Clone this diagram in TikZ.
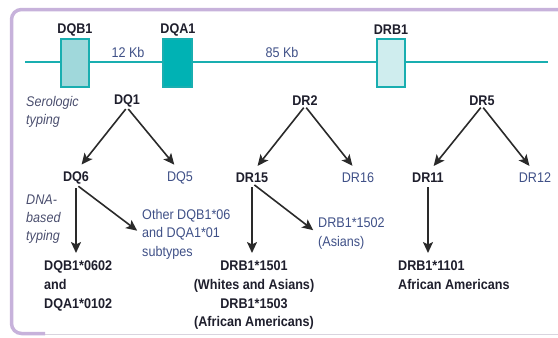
\documentclass[tikz,border=0pt]{standalone}
\usepackage{fontspec}
\setmainfont{Liberation Sans}[FakeStretch=0.9]
\usetikzlibrary{arrows.meta}

\definecolor{lilac}{HTML}{C7B2DB}
\definecolor{lilacpale}{HTML}{D9D4DE}
\definecolor{teal}{HTML}{19AEB0}
\definecolor{tealdark}{HTML}{00B2B4}
\definecolor{tealmid}{HTML}{A0D8DB}
\definecolor{tealpale}{HTML}{CFEDEE}
\definecolor{ink}{HTML}{1E1E2C}
\definecolor{softblue}{HTML}{3F5087}
\definecolor{notegray}{HTML}{4A4E6E}
\definecolor{arrowgray}{HTML}{2A2A2A}

\tikzset{
  lbl/.style={inner sep=0pt, font=\fontsize{14}{18.6}\selectfont},
  boldlbl/.style={lbl, font=\fontsize{14}{18.6}\selectfont\bfseries, text=ink},
  softlbl/.style={lbl, text=softblue},
  note/.style={inner sep=0pt, font=\fontsize{14}{18}\selectfont\itshape,
    text=notegray, align=left, anchor=north west},
  gene/.style={draw=teal, line width=2pt, minimum width=28pt, minimum height=48pt, inner sep=0pt},
  chrom/.style={draw=teal, line width=2pt},
  arr/.style={draw=arrowgray, line width=1.6pt,
    -{Stealth[length=11pt,width=10pt,inset=2.5pt]}},
  varr/.style={arr, line width=2.2pt}
}

\begin{document}
\begin{tikzpicture}[x=1pt,y=-1pt]
\useasboundingbox (0,0) rectangle (558,338);

% frame
\draw[lilacpale, line width=1pt] (40,334.5) -- (558,334.5);
\draw[lilac, line width=3.5pt, rounded corners=10pt]
  (45,333.5) -- (11.5,333.5) -- (11.5,9.5) -- (600,9.5);

% chromosome segment with the three genes
\coordinate (chrL) at (25,62);
\coordinate (chrR) at (548,62);
\draw[chrom] (chrL) -- (chrR);
\node[gene, fill=tealmid] (gDQB1) at (75,63) {};
\node[gene, fill=tealdark, minimum width=29pt] (gDQA1) at (177.5,63) {};
\node[gene, fill=tealpale] (gDRB1) at (391,63) {};

\node[boldlbl] (lDQB1) at (75,30) {DQB1};
\node[boldlbl] (lDQA1) at (178,30) {DQA1};
\node[boldlbl] (lDRB1) at (391,30) {DRB1};
\node[softlbl] (kb12) at (128,52) {12 Kb};
\node[softlbl] (kb85) at (282,52) {85 Kb};

% method notes
\node[note] (sero) at (26,96) {Serologic\\typing};
\node[note] (dna) at (26,195) {DNA-\\based\\typing};

% serologic specificities
\node[boldlbl] (DQ1) at (127,101) {DQ1};
\node[boldlbl] (DR2) at (305,101) {DR2};
\node[boldlbl] (DR5) at (482,101) {DR5};

\node[boldlbl] (DQ6) at (76,178) {DQ6};
\node[softlbl] (DQ5) at (180,178) {DQ5};
\node[boldlbl] (DR15) at (252,178) {DR15};
\node[softlbl] (DR16) at (358,178) {DR16};
\node[boldlbl] (DR11) at (428,178) {DR11};
\node[softlbl] (DR12) at (535,178) {DR12};

% DNA-based alleles
\node[boldlbl, align=left, anchor=north west] (rDQ6) at (44,261)
  {DQB1*0602\\and\\DQA1*0102};
\node[softlbl, align=left, anchor=north west] (oDQ6) at (142,209)
  {Other DQB1*06\\and DQA1*01\\subtypes};
\node[boldlbl, align=center, anchor=north] (rDR15) at (254,261)
  {DRB1*1501\\(Whites and Asians)\\DRB1*1503\\(African Americans)};
\node[softlbl, align=left, anchor=north west] (oDR15) at (318,218)
  {DRB1*1502\\(Asians)};
\node[boldlbl, align=left, anchor=north west] (rDR11) at (398,261)
  {DRB1*1101\\African Americans};

% splits of the serologic groups
\foreach \src/\dst in {DQ1/DQ6, DQ1/DQ5, DR2/DR15, DR2/DR16, DR5/DR11, DR5/DR12}
  \draw[arr, shorten <=2pt, shorten >=9pt] (\src.south) -- (\dst.north);

% main alleles
\draw[varr, shorten <=4pt, shorten >=8pt] (DQ6.south) -- (DQ6.south |- rDQ6.north);
\draw[varr, shorten <=4pt, shorten >=8pt] (DR15.south) -- (DR15.south |- rDR15.north);
\draw[varr, shorten <=4pt, shorten >=8pt] (DR11.south) -- (DR11.south |- rDR11.north);

% other subtypes
\draw[arr, shorten <=3pt, shorten >=6pt] (DQ6.south) -- (oDQ6.west);
\draw[arr, shorten <=3pt, shorten >=6pt] (DR15.south) -- (oDR15.west);
\end{tikzpicture}
\end{document}
